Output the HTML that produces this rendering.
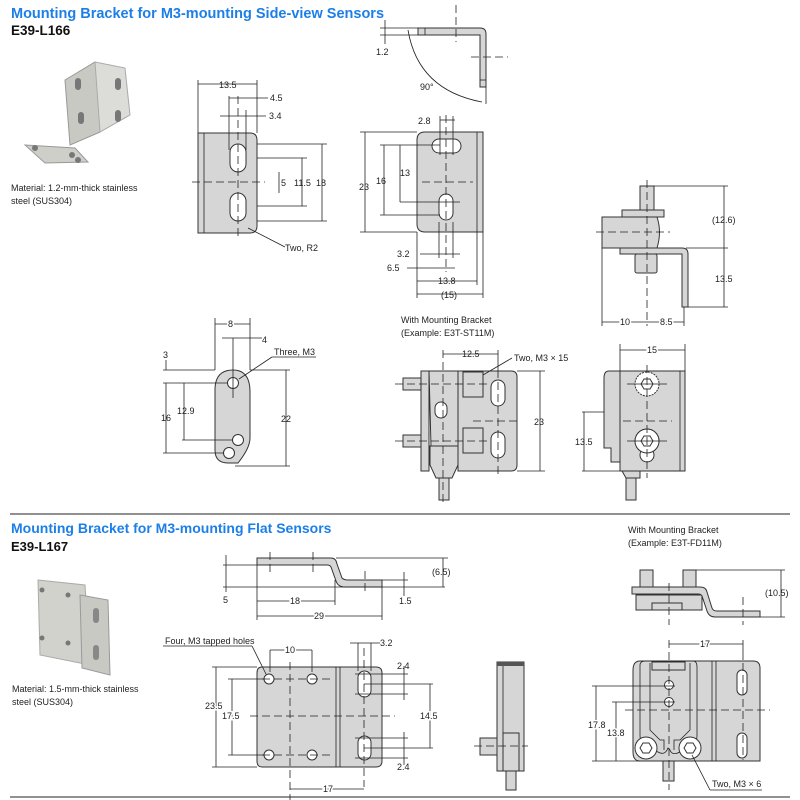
<!DOCTYPE html>
<html><head><meta charset="utf-8"><style>
html,body{margin:0;padding:0;background:#fff;}
svg{display:block;font-family:"Liberation Sans",sans-serif;}
.t{font-size:9px;fill:#222}
.p{fill:#d6d6d6;stroke:#333;stroke-width:1}
.w{fill:#fff;stroke:#333;stroke-width:1}
.l{stroke:#222;stroke-width:0.8;fill:none}
.d{stroke:#222;stroke-width:0.8;fill:none;stroke-dasharray:8 4}
</style></head><body>
<svg width="800" height="800" viewBox="0 0 800 800">
<!-- TOP SECTION -->
<text x="11" y="18" font-size="14.5" font-weight="bold" fill="#1c7fe8">Mounting Bracket for M3-mounting Side-view Sensors</text>
<text x="11" y="35" font-size="13.5" font-weight="bold" fill="#111">E39-L166</text>
<!-- photo 1 -->
<polygon points="65,80 95,62 100,65 100,132 70,145" fill="#c9c9c4" stroke="#999"/>
<polygon points="95,62 125,68 130,115 100,132" fill="#dcdcd8" stroke="#aaa"/>
<rect x="75" y="78" width="6" height="12" rx="3" fill="#777"/>
<rect x="115" y="78" width="6" height="12" rx="3" fill="#777"/>
<rect x="115" y="110" width="6" height="12" rx="3" fill="#777"/>
<rect x="78" y="112" width="6" height="12" rx="3" fill="#777"/>
<polygon points="25,145 75,148 88,162 45,163" fill="#cfcfca" stroke="#999"/>
<circle cx="35" cy="148" r="3" fill="#777"/><circle cx="72" cy="155" r="3" fill="#777"/><circle cx="78" cy="160" r="3" fill="#777"/>
<text x="11" y="191" class="t" font-size="10">Material: 1.2-mm-thick stainless</text>
<text x="11" y="204" class="t" font-size="10">steel (SUS304)</text>

<!-- drawing 1: plate -->
<path class="p" d="M198,133 H250 Q257,133 257,140 V226 Q257,233 250,233 H198 Z"/>
<line class="l" x1="204" y1="133" x2="204" y2="233"/>
<rect class="w" x="230" y="144" width="16" height="28" rx="8"/>
<rect class="w" x="230" y="193" width="16" height="28" rx="8"/>
<line class="d" x1="238" y1="96" x2="238" y2="240"/>
<line class="d" x1="192" y1="182" x2="265" y2="182"/>
<line class="l" x1="198" y1="80" x2="198" y2="133"/><line class="l" x1="257" y1="80" x2="257" y2="133"/>
<line class="l" x1="198" y1="84" x2="257" y2="84"/><text x="219" y="88" class="t">13.5</text>
<line class="l" x1="229" y1="98" x2="268" y2="98"/><text x="270" y="101" class="t">4.5</text>
<line class="l" x1="220" y1="116" x2="266" y2="116"/><text x="269" y="119" class="t">3.4</text>
<line class="l" x1="229" y1="96" x2="229" y2="150"/><line class="l" x1="246" y1="110" x2="246" y2="150"/>
<line class="l" x1="257" y1="144" x2="327" y2="144"/><line class="l" x1="257" y1="221" x2="327" y2="221"/>
<line class="l" x1="322" y1="144" x2="322" y2="221"/><text x="316" y="186" class="t">18</text>
<line class="l" x1="257" y1="158" x2="307" y2="158"/><line class="l" x1="257" y1="206" x2="307" y2="206"/>
<line class="l" x1="302" y1="158" x2="302" y2="206"/><text x="294" y="186" class="t" fill="#8a4a1a">11.5</text>
<line class="l" x1="279" y1="172" x2="279" y2="193"/><text x="281" y="186" class="t">5</text>
<line class="l" x1="248" y1="228" x2="285" y2="247"/><text x="285" y="251" class="t">Two, R2</text>

<!-- side view top -->
<path class="p" d="M418,28 H480 Q486,28 486,34 V87 H480 V35 H418 Z"/>
<line class="l" x1="425" y1="28" x2="425" y2="35"/><line class="l" x1="480" y1="80" x2="486" y2="80"/>
<path class="l" d="M408,30 Q418,90 482,102"/>
<line class="l" x1="380" y1="28" x2="418" y2="28"/><line class="l" x1="380" y1="35" x2="418" y2="35"/>
<line class="l" x1="486" y1="87" x2="486" y2="104"/>
<line class="d" x1="456" y1="5" x2="456" y2="42"/><line class="d" x1="471" y1="57" x2="508" y2="57"/>
<text x="420" y="90" class="t" font-size="8">90°</text>
<text x="376" y="55" class="t">1.2</text>
<line class="l" x1="385" y1="20" x2="385" y2="44"/>

<!-- plate 2 -->
<path class="p" d="M425,132 H483 V232 H425 Q417,232 417,224 V140 Q417,132 425,132 Z"/>
<line class="l" x1="477" y1="132" x2="477" y2="232"/>
<rect class="w" x="432" y="139" width="29" height="14" rx="7"/>
<rect class="w" x="439" y="194" width="14" height="26" rx="7"/>
<line class="d" x1="446" y1="115" x2="446" y2="272"/>
<line class="d" x1="422" y1="182" x2="473" y2="182"/>
<line class="l" x1="360" y1="132" x2="417" y2="132"/><line class="l" x1="360" y1="232" x2="417" y2="232"/>
<line class="l" x1="365" y1="132" x2="365" y2="232"/><text x="359" y="190" class="t">23</text>
<line class="l" x1="380" y1="145" x2="440" y2="145"/><line class="l" x1="380" y1="215" x2="440" y2="215"/>
<line class="l" x1="384" y1="145" x2="384" y2="215"/><text x="376" y="184" class="t">16</text>
<line class="l" x1="400" y1="145" x2="400" y2="202"/><line class="l" x1="400" y1="202" x2="460" y2="202"/><text x="400" y="176" class="t">13</text>
<line class="l" x1="440" y1="120" x2="455" y2="120"/><text x="418" y="124" class="t">2.8</text>
<line class="l" x1="440" y1="116" x2="440" y2="155"/><line class="l" x1="453" y1="116" x2="453" y2="155"/>
<line class="l" x1="439" y1="222" x2="439" y2="258"/><line class="l" x1="453" y1="222" x2="453" y2="258"/>
<line class="l" x1="420" y1="254" x2="460" y2="254"/><text x="397" y="257" class="t">3.2</text>
<line class="l" x1="407" y1="268" x2="455" y2="268"/><text x="387" y="271" class="t">6.5</text>
<line class="l" x1="417" y1="232" x2="417" y2="298"/><line class="l" x1="477" y1="232" x2="477" y2="285"/><line class="l" x1="483" y1="232" x2="483" y2="298"/>
<line class="l" x1="417" y1="281" x2="477" y2="281"/><text x="438" y="284" class="t">13.8</text>
<line class="l" x1="417" y1="294" x2="483" y2="294"/><text x="441" y="298" class="t">(15)</text>

<!-- right side view -->
<rect class="p" x="640" y="186" width="14" height="24"/>
<rect class="p" x="622" y="210" width="42" height="7"/>
<path class="p" d="M602,217 H657 Q662,232 657,248 H602 Z"/>
<path class="p" d="M620,248 H682 Q688,248 688,254 V307 H682 V254 H620 Z"/>
<rect class="p" x="635" y="254" width="22" height="19" rx="2"/>
<line class="d" x1="596" y1="232" x2="670" y2="232"/>
<line class="d" x1="647" y1="180" x2="647" y2="326"/>
<line class="l" x1="654" y1="186" x2="728" y2="186"/><line class="l" x1="686" y1="248" x2="728" y2="248"/><line class="l" x1="688" y1="307" x2="728" y2="307"/>
<line class="l" x1="724" y1="186" x2="724" y2="307"/>
<text x="712" y="223" class="t">(12.6)</text><text x="715" y="282" class="t">13.5</text>
<line class="l" x1="602" y1="248" x2="602" y2="326"/><line class="l" x1="684" y1="307" x2="684" y2="326"/>
<line class="l" x1="602" y1="322" x2="684" y2="322"/>
<text x="620" y="325" class="t" style="paint-order:stroke" stroke="#fff" stroke-width="3">10</text>
<text x="660" y="325" class="t" style="paint-order:stroke" stroke="#fff" stroke-width="3">8.5</text>

<!-- flat bracket -->
<path class="p" d="M215,390 Q215,370 233,370 Q250,370 250,392 V438 Q250,448 238,463 H228 Q215,463 215,450 Z"/>
<circle class="w" cx="233" cy="383" r="5.5"/><circle class="w" cx="238" cy="440" r="5.5"/><circle class="w" cx="229" cy="453" r="5.5"/>
<line class="l" x1="233" y1="338" x2="233" y2="398"/>
<line class="l" x1="215" y1="318" x2="215" y2="370"/><line class="l" x1="250" y1="318" x2="250" y2="370"/>
<line class="l" x1="215" y1="324" x2="250" y2="324"/><text x="228" y="327" class="t" style="paint-order:stroke" stroke="#fff" stroke-width="3">8</text>
<line class="l" x1="222" y1="338" x2="262" y2="338"/><text x="262" y="343" class="t">4</text>
<line class="l" x1="163" y1="370" x2="215" y2="370"/><line class="l" x1="163" y1="383" x2="228" y2="383"/>
<line class="l" x1="166" y1="360" x2="166" y2="370"/><text x="163" y="358" class="t" font-size="8">3</text>
<line class="l" x1="166" y1="383" x2="166" y2="453"/><line class="l" x1="163" y1="453" x2="224" y2="453"/><text x="161" y="421" class="t" font-size="8">16</text>
<line class="l" x1="184" y1="383" x2="184" y2="440"/><line class="l" x1="182" y1="440" x2="233" y2="440"/><text x="177" y="414" class="t" font-size="8">12.9</text>
<line class="l" x1="250" y1="370" x2="290" y2="370"/><line class="l" x1="235" y1="466" x2="290" y2="466"/>
<line class="l" x1="286" y1="370" x2="286" y2="466"/><text x="281" y="422" class="t" font-size="8">22</text>
<line class="l" x1="239" y1="379" x2="272" y2="357"/><line class="l" x1="272" y1="357" x2="316" y2="357"/><text x="274" y="355" class="t" font-size="8">Three, M3</text>

<!-- with mounting bracket ST11M -->
<text x="401" y="323" class="t">With Mounting Bracket</text>
<text x="401" y="336" class="t">(Example: E3T-ST11M)</text>
<rect class="p" x="403" y="378" width="18" height="12"/><rect class="p" x="403" y="435" width="18" height="12"/>
<rect class="p" x="421" y="371" width="8" height="100"/>
<path class="p" d="M429,371 H458 V446 H431 Z"/>
<path class="p" d="M430,446 H458 V465 L452,478 H436 L430,465 Z"/>
<rect class="p" x="439" y="478" width="10" height="22"/>
<path class="p" d="M458,371 H511 Q517,371 517,377 V465 Q517,471 511,471 H458 Z"/>
<rect class="p" x="463" y="372" width="20" height="25"/><rect class="p" x="463" y="428" width="20" height="25"/>
<rect class="w" x="491" y="380" width="14" height="26" rx="7"/><rect class="w" x="491" y="432" width="14" height="26" rx="7"/>
<rect class="w" x="435" y="402" width="12" height="16" rx="6"/>
<line class="d" x1="443" y1="350" x2="443" y2="505"/><line class="d" x1="498" y1="370" x2="498" y2="475"/>
<line class="d" x1="395" y1="384" x2="490" y2="384"/><line class="d" x1="395" y1="441" x2="490" y2="441"/>
<line class="d" x1="473" y1="421" x2="520" y2="421"/>
<line class="l" x1="498" y1="350" x2="498" y2="370"/>
<line class="l" x1="443" y1="354" x2="498" y2="354"/><text x="462" y="357" class="t">12.5</text>
<line class="l" x1="483" y1="375" x2="512" y2="358"/><text x="514" y="361" class="t" font-size="8">Two, M3 × 15</text>
<line class="l" x1="517" y1="371" x2="545" y2="371"/><line class="l" x1="517" y1="471" x2="545" y2="471"/>
<line class="l" x1="540" y1="371" x2="540" y2="471"/><text x="534" y="425" class="t">23</text>

<path class="p" d="M620,371 H609 Q604,371 604,378 V448 H611 V462 H620 Z"/>
<rect class="p" x="620" y="371" width="65" height="100"/>
<line class="l" x1="680" y1="371" x2="680" y2="471"/>
<circle class="w" cx="647" cy="441" r="12" stroke-dasharray="2 1"/><circle class="w" cx="647" cy="384" r="12" stroke-dasharray="2 1"/>
<circle class="w" cx="647" cy="455" r="7"/><circle class="w" cx="647" cy="441" r="12"/>
<polygon class="w" points="641,384 644,379 650,379 653,384 650,389 644,389"/>
<polygon class="w" points="641,441 644,436 650,436 653,441 650,446 644,446"/>
<line class="d" x1="647" y1="365" x2="647" y2="478"/><line class="d" x1="623" y1="421" x2="672" y2="421"/>
<line class="l" x1="627" y1="384" x2="667" y2="384"/><line class="l" x1="627" y1="441" x2="667" y2="441"/>
<rect class="p" x="626" y="478" width="10" height="22"/><path class="p" d="M622,471 H640 V478 H626 Z"/>
<line class="l" x1="620" y1="344" x2="620" y2="371"/><line class="l" x1="685" y1="344" x2="685" y2="371"/>
<line class="l" x1="620" y1="350" x2="685" y2="350"/><text x="647" y="353" class="t" style="paint-order:stroke" stroke="#fff" stroke-width="3">15</text>
<line class="l" x1="582" y1="412" x2="604" y2="412"/><line class="l" x1="582" y1="471" x2="620" y2="471"/>
<line class="l" x1="584" y1="412" x2="584" y2="471"/><text x="575" y="445" class="t">13.5</text>

<line x1="10" y1="514" x2="790" y2="514" stroke="#222" stroke-width="1"/>

<!-- BOTTOM SECTION -->
<text x="11" y="533" font-size="14" font-weight="bold" fill="#1c7fe8">Mounting Bracket for M3-mounting Flat Sensors</text>
<text x="11" y="551" font-size="13" font-weight="bold" fill="#111">E39-L167</text>
<!-- photo 2 -->
<polygon points="38,580 85,585 90,665 40,655" fill="#d2d2cc" stroke="#aaa"/>
<polygon points="80,595 108,600 110,675 82,668" fill="#c9c9c4" stroke="#999"/>
<circle cx="42" cy="590" r="2.5" fill="#777"/><circle cx="68" cy="595" r="2.5" fill="#777"/><circle cx="42" cy="638" r="2.5" fill="#777"/><circle cx="68" cy="643" r="2.5" fill="#777"/>
<rect x="93" y="608" width="6" height="15" rx="3" fill="#888"/><rect x="93" y="645" width="6" height="15" rx="3" fill="#888"/>
<text x="12" y="692" class="t" font-size="10">Material: 1.5-mm-thick stainless</text>
<text x="12" y="705" class="t" font-size="10">steel (SUS304)</text>

<!-- side profile -->
<path class="p" d="M257,558 H331 Q336,558 337,564 L342,578 Q344,580 348,580 H382 V587 H345 Q338,587 336,581 L331,567 Q330,565 327,565 H257 Z"/>
<line class="d" x1="270" y1="552" x2="270" y2="573"/><line class="d" x1="313" y1="552" x2="313" y2="573"/><line class="d" x1="365" y1="571" x2="365" y2="594"/>
<line class="l" x1="223" y1="565" x2="257" y2="565"/><line class="l" x1="223" y1="587" x2="445" y2="587"/>
<line class="l" x1="226" y1="555" x2="226" y2="592"/><text x="223" y="603" class="t" font-size="8">5</text>
<line class="l" x1="336" y1="558" x2="448" y2="558"/><line class="l" x1="443" y1="558" x2="443" y2="587"/><text x="432" y="575" class="t" font-size="8">(6.5)</text>
<line class="l" x1="382" y1="580" x2="408" y2="580"/><line class="l" x1="404" y1="572" x2="404" y2="596"/><text x="399" y="604" class="t" font-size="8">1.5</text>
<line class="l" x1="257" y1="565" x2="257" y2="620"/><line class="l" x1="335" y1="580" x2="335" y2="605"/><line class="l" x1="382" y1="587" x2="382" y2="620"/>
<line class="l" x1="257" y1="601" x2="335" y2="601"/><text x="290" y="604" class="t" font-size="8" style="paint-order:stroke" stroke="#fff" stroke-width="3">18</text>
<line class="l" x1="257" y1="616" x2="382" y2="616"/><text x="314" y="619" class="t" font-size="8" style="paint-order:stroke" stroke="#fff" stroke-width="3">29</text>

<!-- main plate -->
<path class="p" d="M262,667 H376 Q382,667 382,673 V761 Q382,767 376,767 H262 Q257,767 257,761 V673 Q257,667 262,667 Z"/>
<line class="l" x1="336" y1="667" x2="336" y2="767"/><line class="l" x1="340" y1="667" x2="340" y2="767"/>
<circle class="w" cx="269" cy="679" r="5"/><circle class="w" cx="312" cy="679" r="5"/><circle class="w" cx="269" cy="755" r="5"/><circle class="w" cx="312" cy="755" r="5"/>
<rect class="w" x="358" y="671" width="13" height="26" rx="6.5"/><rect class="w" x="358" y="736" width="13" height="24" rx="6.5"/>
<line class="d" x1="290" y1="662" x2="290" y2="800"/><line class="d" x1="364" y1="648" x2="364" y2="787"/>
<line class="d" x1="250" y1="716" x2="395" y2="716"/>
<line class="d" x1="262" y1="679" x2="330" y2="679"/><line class="d" x1="262" y1="755" x2="330" y2="755"/>
<line class="l" x1="270" y1="650" x2="270" y2="672"/><line class="l" x1="312" y1="650" x2="312" y2="672"/>
<line class="l" x1="270" y1="650" x2="312" y2="650"/><text x="285" y="653" class="t" font-size="8" style="paint-order:stroke" stroke="#fff" stroke-width="3">10</text>
<line class="l" x1="358" y1="643" x2="358" y2="671"/><line class="l" x1="371" y1="643" x2="371" y2="671"/>
<line class="l" x1="350" y1="643" x2="380" y2="643"/><text x="380" y="646" class="t" font-size="8">3.2</text>
<line class="l" x1="163" y1="646" x2="252" y2="646"/><text x="165" y="644" class="t" font-size="8">Four, M3 tapped holes</text>
<line class="l" x1="252" y1="646" x2="266" y2="674"/>
<line class="l" x1="212" y1="667" x2="257" y2="667"/><line class="l" x1="212" y1="767" x2="257" y2="767"/>
<line class="l" x1="216" y1="667" x2="216" y2="767"/><text x="205" y="709" class="t" font-size="8" style="paint-order:stroke" stroke="#fff" stroke-width="3">23.5</text>
<line class="l" x1="228" y1="679" x2="264" y2="679"/><line class="l" x1="228" y1="755" x2="264" y2="755"/>
<line class="l" x1="232" y1="679" x2="232" y2="755"/><text x="222" y="719" class="t" font-size="8" style="paint-order:stroke" stroke="#fff" stroke-width="3">17.5</text>
<line class="l" x1="364" y1="684" x2="433" y2="684"/><line class="l" x1="364" y1="748" x2="433" y2="748"/>
<line class="l" x1="430" y1="684" x2="430" y2="748"/><text x="420" y="719" class="t" font-size="8" style="paint-order:stroke" stroke="#fff" stroke-width="3">14.5</text>
<line class="l" x1="355" y1="674" x2="408" y2="674"/><line class="l" x1="355" y1="694" x2="408" y2="694"/><line class="l" x1="404" y1="666" x2="404" y2="700"/><text x="397" y="669" class="t" font-size="8">2.4</text>
<line class="l" x1="355" y1="738" x2="408" y2="738"/><line class="l" x1="355" y1="758" x2="408" y2="758"/><line class="l" x1="404" y1="732" x2="404" y2="765"/><text x="397" y="770" class="t" font-size="8">2.4</text>
<line class="l" x1="290" y1="789" x2="364" y2="789"/><text x="323" y="792" class="t" font-size="8" style="paint-order:stroke" stroke="#fff" stroke-width="3">17</text>

<!-- thin side view -->
<rect class="p" x="497" y="662" width="27" height="109"/>
<rect x="497" y="662" width="27" height="4" fill="#555"/>
<line class="l" x1="503" y1="666" x2="503" y2="771"/>
<rect class="p" x="503" y="733" width="16" height="38"/>
<rect class="p" x="480" y="738" width="17" height="17"/>
<rect class="p" x="506" y="771" width="10" height="19"/>
<line class="d" x1="474" y1="746" x2="528" y2="746"/>

<!-- right: with mounting bracket FD11M -->
<text x="628" y="533" class="t">With Mounting Bracket</text>
<text x="628" y="546" class="t">(Example: E3T-FD11M)</text>
<rect class="p" x="640" y="570" width="13" height="20"/><rect class="p" x="683" y="570" width="13" height="20"/>
<rect class="p" x="636" y="595" width="66" height="15"/>
<rect class="p" x="652" y="603" width="30" height="7"/>
<path class="p" d="M632,587 H700 Q706,587 707,592 L712,608 Q713,611 717,611 H760 V617 H715 Q709,617 707,611 L702,596 Q701,594 698,594 H632 Z"/>
<line class="d" x1="669" y1="583" x2="669" y2="625"/><line class="d" x1="743" y1="597" x2="743" y2="625"/>
<line class="l" x1="696" y1="570" x2="785" y2="570"/><line class="l" x1="760" y1="617" x2="785" y2="617"/>
<line class="l" x1="781" y1="570" x2="781" y2="617"/><text x="765" y="596" class="t" font-size="8">(10.5)</text>

<path class="p" d="M640,661 H753 Q760,661 760,668 V761 H640 Q633,761 633,752 V670 Q633,661 640,661 Z"/>
<line class="l" x1="712" y1="661" x2="712" y2="761"/><line class="l" x1="716" y1="661" x2="716" y2="761"/>
<rect class="w" x="737" y="670" width="10" height="25" rx="5"/><rect class="w" x="737" y="733" width="10" height="25" rx="5"/>
<path class="l" d="M640,665 Q640,661 646,661 H693 Q697,661 697,667 V735 Q697,745 690,748 L680,752 Q672,756 670,750 L668,748 Q665,756 658,752 L648,748 Q640,745 640,735 Z" fill="#d6d6d6"/>
<path class="l" d="M650,663 V730 L660,740 H664 V750 M690,663 V730 L680,740 H674 V750"/>
<rect class="p" x="652" y="662" width="33" height="8"/>
<circle class="w" cx="669" cy="685" r="4.5"/><circle class="w" cx="669" cy="702" r="4.5"/>
<circle class="w" cx="646" cy="748" r="11"/><circle class="w" cx="690" cy="748" r="11"/>
<polygon class="w" points="640,748 643,743 649,743 652,748 649,753 643,753"/>
<polygon class="w" points="684,748 687,743 693,743 696,748 693,753 687,753"/>
<rect class="p" x="663" y="761" width="11" height="20"/>
<line class="d" x1="669" y1="640" x2="669" y2="790"/><line class="d" x1="743" y1="663" x2="743" y2="760"/>
<line class="d" x1="625" y1="710" x2="770" y2="710"/>
<line class="l" x1="669" y1="644" x2="743" y2="644"/><line class="l" x1="743" y1="640" x2="743" y2="660"/><text x="700" y="647" class="t" font-size="8" style="paint-order:stroke" stroke="#fff" stroke-width="3">17</text>
<line class="l" x1="592" y1="686" x2="675" y2="686"/><line class="l" x1="592" y1="761" x2="640" y2="761"/>
<line class="l" x1="596" y1="686" x2="596" y2="761"/><text x="588" y="728" class="t" font-size="8" style="paint-order:stroke" stroke="#fff" stroke-width="3">17.8</text>
<line class="l" x1="612" y1="702" x2="675" y2="702"/><line class="l" x1="616" y1="702" x2="616" y2="761"/><text x="607" y="736" class="t" font-size="8" style="paint-order:stroke" stroke="#fff" stroke-width="3">13.8</text>
<line class="l" x1="692" y1="755" x2="710" y2="790"/><line class="l" x1="710" y1="790" x2="762" y2="790"/>
<text x="712" y="787" class="t" font-size="8">Two, M3 × 6</text>

<line x1="10" y1="797" x2="790" y2="797" stroke="#222" stroke-width="1"/>
</svg>
</body></html>
